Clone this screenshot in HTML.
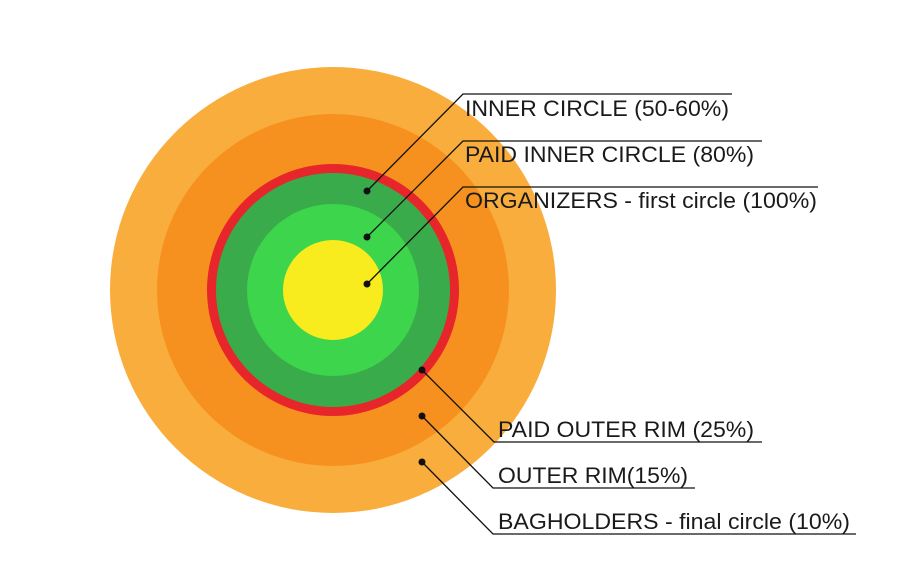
<!DOCTYPE html>
<html><head><style>
html,body{margin:0;padding:0;background:#fff;}
svg{display:block;}
text{font-family:"Liberation Sans",sans-serif;font-size:22px;fill:#1a1a1a;}
</style></head><body>
<svg width="906" height="570" viewBox="0 0 906 570">
<circle cx="333" cy="290" r="223" fill="#F9AD3C"/>
<circle cx="333" cy="290" r="176" fill="#F6911F"/>
<circle cx="333" cy="290" r="126" fill="#E6262B"/>
<circle cx="333" cy="290" r="117" fill="#3AAB4A"/>
<circle cx="333" cy="290" r="86" fill="#3DD54B"/>
<circle cx="333" cy="290" r="50" fill="#F8EB1E"/>
<g stroke="#111" stroke-width="1.3" fill="none">
<polyline points="367,191 463,94 732,94"/>
<polyline points="367,237 463,141 762,141"/>
<polyline points="367,284 463,187 818,187"/>
<polyline points="422,370 494,442 762,442"/>
<polyline points="422,416 493,488 695,488"/>
<polyline points="422,462 493,534 856,534"/>
</g>
<g fill="#111">
<circle cx="367" cy="191" r="3.5"/><circle cx="367" cy="237" r="3.5"/><circle cx="367" cy="284" r="3.5"/>
<circle cx="422" cy="370" r="3.5"/><circle cx="422" cy="416" r="3.5"/><circle cx="422" cy="462" r="3.5"/>
</g>
<text x="465" y="116" textLength="264" lengthAdjust="spacingAndGlyphs">INNER CIRCLE (50-60%)</text>
<text x="465" y="162" textLength="289" lengthAdjust="spacingAndGlyphs">PAID INNER CIRCLE (80%)</text>
<text x="465" y="208" textLength="352" lengthAdjust="spacingAndGlyphs">ORGANIZERS - first circle (100%)</text>
<text x="498" y="437" textLength="256" lengthAdjust="spacingAndGlyphs">PAID OUTER RIM (25%)</text>
<text x="498" y="483" textLength="190" lengthAdjust="spacingAndGlyphs">OUTER RIM(15%)</text>
<text x="498" y="529" textLength="352" lengthAdjust="spacingAndGlyphs">BAGHOLDERS - final circle (10%)</text>
</svg>
</body></html>
